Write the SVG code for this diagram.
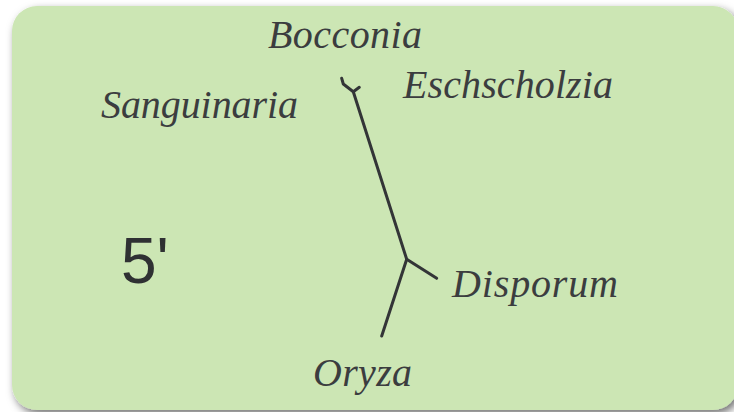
<svg xmlns="http://www.w3.org/2000/svg" width="734" height="412" viewBox="0 0 734 412">
  <defs>
    <filter id="sh" x="-5%" y="-5%" width="115%" height="115%">
      <feGaussianBlur in="SourceAlpha" stdDeviation="4"/>
      <feOffset dx="3" dy="4" result="b"/>
      <feFlood flood-color="#000" flood-opacity="0.55"/>
      <feComposite in2="b" operator="in"/>
      <feMerge><feMergeNode/><feMergeNode in="SourceGraphic"/></feMerge>
    </filter>
  </defs>
  <style>
    .taxon { font-family: "Liberation Serif", serif; font-style: italic; font-size: 40px; fill: #3b3d3f; }
    .num { font-family: "Liberation Sans", Arial, sans-serif; font-size: 64px; fill: #2f3133; }
    .edge { fill: none; stroke: #333537; stroke-width: 3; stroke-linecap: round; stroke-linejoin: round; }
  </style>
  <rect width="734" height="412" fill="#ffffff"/>
  <rect x="12" y="6" width="726" height="404" rx="25" ry="25" fill="#cce6b4" filter="url(#sh)"/>
  <g id="connectors">
    <polyline class="edge" points="341.7,78.3 343.3,84 353.3,91.7 406.7,259.3 381.7,336"/>
    <line class="edge" x1="353.3" y1="91.7" x2="359.3" y2="87.3"/>
    <line class="edge" x1="406.7" y1="259.3" x2="436.7" y2="278.3"/>
  </g>
  <g id="bocconia"><text class="taxon" x="268" y="48" textLength="154">Bocconia</text></g>
  <g id="sanguinaria"><text class="taxon" x="101" y="118" textLength="197">Sanguinaria</text></g>
  <g id="eschscholzia"><text class="taxon" x="403" y="98" textLength="210">Eschscholzia</text></g>
  <g id="disporum"><text class="taxon" x="452" y="297" textLength="166">Disporum</text></g>
  <g id="oryza"><text class="taxon" x="313" y="386" textLength="99">Oryza</text></g>
  <g id="label-5prime"><text class="num" x="121" y="283">5'</text></g>
</svg>
